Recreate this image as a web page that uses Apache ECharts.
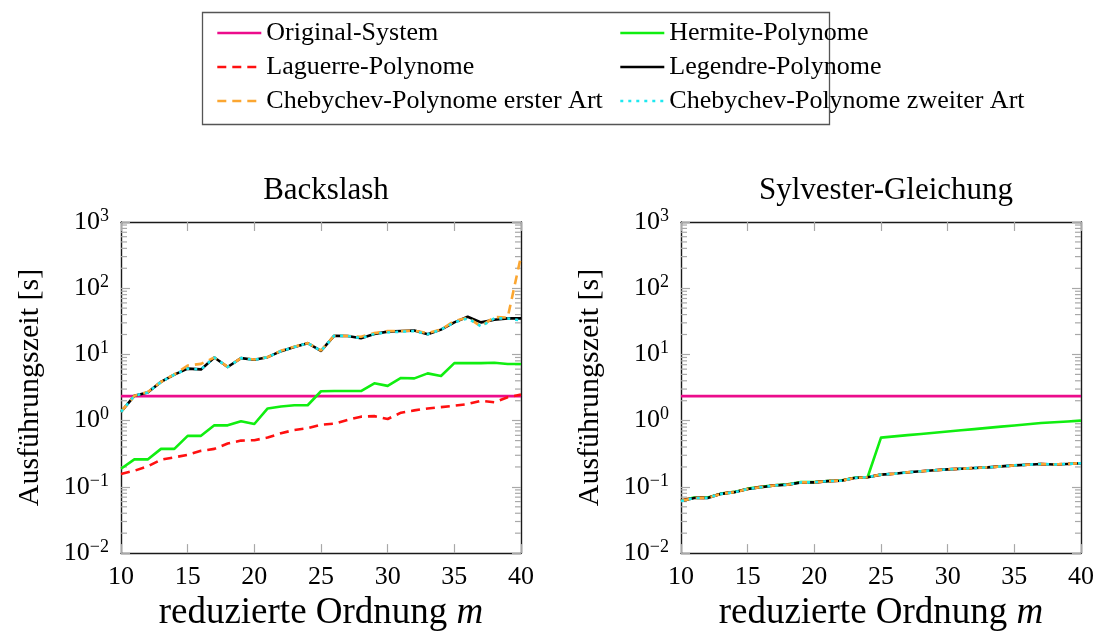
<!DOCTYPE html>
<html>
<head>
<meta charset="utf-8">
<script src="https://cdn.jsdelivr.net/npm/echarts@6/dist/echarts.min.js"></script>
<style>
  html, body { margin: 0; padding: 0; background: #fff; }
  #chart { width: 1097px; height: 637px; }
</style>
</head>
<body>
<div id="chart"></div>
<script>
// reduzierte Ordnung m
const orders = [10, 11, 12, 13, 14, 15, 16, 17, 18, 19, 20, 21, 22, 23, 24, 25,
                26, 27, 28, 29, 30, 31, 32, 33, 34, 35, 36, 37, 38, 39, 40];

// Ausführungszeit [s] – Backslash
const bsOriginal = [2.35, 2.35, 2.35, 2.35, 2.35, 2.35, 2.35, 2.35, 2.35, 2.35, 2.35, 2.35, 2.35, 2.35, 2.35, 2.35,
                    2.35, 2.35, 2.35, 2.35, 2.35, 2.35, 2.35, 2.35, 2.35, 2.35, 2.35, 2.35, 2.35, 2.35, 2.35];
const bsHermite = [0.188, 0.26, 0.26, 0.375, 0.375, 0.59, 0.59, 0.85, 0.85, 0.98, 0.89, 1.53, 1.64, 1.71, 1.71, 2.78,
                   2.8, 2.8, 2.8, 3.66, 3.35, 4.41, 4.35, 5.18, 4.73, 7.4, 7.4, 7.4, 7.5, 7.16, 7.16];
const bsLaguerre = [0.157, 0.175, 0.204, 0.257, 0.279, 0.305, 0.35, 0.375, 0.452, 0.5, 0.507, 0.556, 0.645, 0.723, 0.767, 0.87,
                    0.9, 1.03, 1.15, 1.17, 1.06, 1.32, 1.43, 1.53, 1.6, 1.68, 1.78, 2.0, 1.9, 2.26, 2.48];
const bsLegendre = [1.36, 2.37, 2.66, 3.85, 4.95, 6.1, 5.94, 9.0, 6.46, 8.8, 8.3, 9.1, 11.2, 12.9, 14.8, 11.3,
                    19.2, 19.0, 17.6, 20.4, 22.1, 22.6, 22.9, 20.2, 23.7, 30.5, 37, 30.5, 33.4, 35, 35];
const bsCheb1 = [1.36, 2.37, 2.7, 3.85, 5.0, 6.8, 7.2, 9.0, 6.5, 8.8, 8.4, 9.1, 11.4, 13.1, 14.8, 11.5,
                 19.2, 19.0, 18.5, 21.0, 22.5, 22.6, 22.9, 21.0, 23.7, 32, 36, 26.6, 36.7, 36, 305];
const bsCheb2 = [1.36, 2.37, 2.66, 3.85, 4.95, 6.1, 5.94, 9.0, 6.46, 8.8, 8.3, 9.1, 11.2, 12.9, 14.8, 11.3,
                 19.2, 19.0, 17.6, 20.4, 21.5, 22.0, 22.5, 20.2, 23.7, 30.5, 35, 26.6, 35, 35, 32.5];

// Ausführungszeit [s] – Sylvester-Gleichung
const syOriginal = [2.35, 2.35, 2.35, 2.35, 2.35, 2.35, 2.35, 2.35, 2.35, 2.35, 2.35, 2.35, 2.35, 2.35, 2.35, 2.35,
                    2.35, 2.35, 2.35, 2.35, 2.35, 2.35, 2.35, 2.35, 2.35, 2.35, 2.35, 2.35, 2.35, 2.35, 2.35];
const syHermite = [0.062, 0.069, 0.069, 0.079, 0.084, 0.094, 0.1, 0.106, 0.109, 0.118, 0.118, 0.123, 0.125, 0.137, 0.141, 0.555,
                   0.579, 0.604, 0.63, 0.658, 0.686, 0.715, 0.746, 0.778, 0.812, 0.847, 0.883, 0.922, 0.946, 0.973, 1.0];
const syLaguerre = [0.062, 0.069, 0.068, 0.079, 0.084, 0.093, 0.1, 0.106, 0.108, 0.117, 0.117, 0.122, 0.124, 0.136, 0.14, 0.153,
                    0.158, 0.166, 0.172, 0.178, 0.184, 0.188, 0.193, 0.197, 0.204, 0.211, 0.216, 0.222, 0.218, 0.222, 0.228];
const syLegendre = [0.061, 0.068, 0.068, 0.0785, 0.083, 0.093, 0.099, 0.105, 0.108, 0.117, 0.117, 0.122, 0.124, 0.136, 0.14, 0.153,
                    0.158, 0.166, 0.172, 0.178, 0.184, 0.188, 0.193, 0.197, 0.204, 0.211, 0.216, 0.222, 0.218, 0.222, 0.228];
const syCheb1 = [0.061, 0.068, 0.068, 0.0785, 0.083, 0.093, 0.099, 0.105, 0.108, 0.117, 0.117, 0.122, 0.124, 0.136, 0.14, 0.153,
                 0.158, 0.166, 0.172, 0.178, 0.184, 0.188, 0.193, 0.197, 0.204, 0.211, 0.216, 0.222, 0.218, 0.222, 0.228];
const syCheb2 = [0.061, 0.068, 0.068, 0.0785, 0.083, 0.093, 0.099, 0.105, 0.108, 0.117, 0.117, 0.122, 0.124, 0.136, 0.14, 0.153,
                 0.158, 0.166, 0.172, 0.178, 0.184, 0.188, 0.193, 0.197, 0.204, 0.211, 0.216, 0.222, 0.218, 0.222, 0.228];

// axis ranges and tick labels
const xTicks = [10, 15, 20, 25, 30, 35, 40];
const yDecades = [-2, -1, 0, 1, 2, 3];
const minorDigits = [2, 3, 4, 5, 6, 7, 8, 9];

const FONT = '"Liberation Serif", "DejaVu Serif", "Times New Roman", serif';
const C = {
  original: '#ec0c8c',
  hermite: '#10ee10',
  laguerre: '#ff1010',
  legendre: '#000000',
  cheb1: '#fba631',
  cheb2: '#1ee8f0'
};
const LW = 2.6;

const pts = vals => orders.map((m, i) => [m, vals[i]]);

// log minor tick values (2..9 · 10^k) inside each decade
const minorVals = [];
for (let k = 0; k < yDecades.length - 1; k++) {
  for (const d of minorDigits) minorVals.push([xTicks[0], d * Math.pow(10, yDecades[k])]);
}

function powLabel(v) {
  const e = Math.round(Math.log10(v));
  return '10{sup|' + (e < 0 ? '\u2212' + (-e) : String(e)) + '}';
}

function minorTickSeries(gi) {
  return {
    type: 'custom',
    xAxisIndex: gi, yAxisIndex: gi,
    silent: true, z: 1,
    data: minorVals,
    renderItem: function (params, api) {
      const cs = params.coordSys;
      const y = api.coord([api.value(0), api.value(1)])[1];
      const st = { stroke: '#a8a8a8', lineWidth: 1.2 };
      return {
        type: 'group',
        children: [
          { type: 'line', shape: { x1: cs.x, y1: y, x2: cs.x + 6, y2: y }, style: st },
          { type: 'line', shape: { x1: cs.x + cs.width - 6, y1: y, x2: cs.x + cs.width, y2: y }, style: st }
        ]
      };
    }
  };
}

function lineSeries(name, vals, gi, color, type, z) {
  return {
    name: name, type: 'line', xAxisIndex: gi, yAxisIndex: gi,
    data: pts(vals), symbol: 'none', showSymbol: false, z: z,
    lineStyle: { color: color, width: LW, type: type, cap: 'butt', join: 'round' },
    itemStyle: { color: color },
    emphasis: { disabled: true }
  };
}

function plotSeries(gi, d) {
  return [
    lineSeries('Original-System', d.original, gi, C.original, 'solid', 2),
    lineSeries('Hermite-Polynome', d.hermite, gi, C.hermite, 'solid', 3),
    lineSeries('Laguerre-Polynome', d.laguerre, gi, C.laguerre, [9, 6], 4),
    lineSeries('Legendre-Polynome', d.legendre, gi, C.legendre, 'solid', 5),
    lineSeries('Chebychev-Polynome erster Art', d.cheb1, gi, C.cheb1, [9, 6], 6),
    lineSeries('Chebychev-Polynome zweiter Art', d.cheb2, gi, C.cheb2, [3, 5], 7),
    minorTickSeries(gi)
  ];
}

const frameLine = { show: true, lineStyle: { color: '#1a1a1a', width: 1.4 } };
const majorTick = { show: true, inside: true, length: 9, lineStyle: { color: '#a8a8a8', width: 1.2 } };
const tickText = { color: '#000', fontFamily: FONT, fontSize: 26 };

function xAxes(gi) {
  return [
    {
      type: 'value', gridIndex: gi, position: 'bottom', min: xTicks[0], max: xTicks[xTicks.length - 1],
      interval: xTicks[1] - xTicks[0],
      axisLine: frameLine, axisTick: majorTick, splitLine: { show: false },
      axisLabel: Object.assign({ margin: 11 }, tickText),
      name: 'reduzierte Ordnung {it|m}', nameLocation: 'middle', nameGap: 29,
      nameTextStyle: {
        color: '#000', fontFamily: FONT, fontSize: 37,
        rich: { it: { fontFamily: FONT, fontSize: 37, fontStyle: 'italic', color: '#000' } }
      }
    },
    {
      type: 'value', gridIndex: gi, position: 'top', min: xTicks[0], max: xTicks[xTicks.length - 1],
      interval: xTicks[1] - xTicks[0],
      axisLine: frameLine, axisTick: majorTick, splitLine: { show: false }, axisLabel: { show: false }
    }
  ];
}

function yAxes(gi) {
  const base = {
    type: 'log', logBase: 10, gridIndex: gi,
    min: Math.pow(10, yDecades[0]), max: Math.pow(10, yDecades[yDecades.length - 1]),
    axisLine: frameLine, axisTick: majorTick, splitLine: { show: false }
  };
  return [
    Object.assign({}, base, {
      position: 'left',
      axisLabel: Object.assign({
        margin: 12, formatter: powLabel,
        rich: { sup: { fontFamily: FONT, fontSize: 18, color: '#000', padding: [0, 0, 12, 0] } }
      }, tickText),
      name: 'Ausführungszeit [s]', nameLocation: 'middle', nameGap: 76,
      nameTextStyle: { color: '#000', fontFamily: FONT, fontSize: 30 }
    }),
    Object.assign({}, base, { position: 'right', axisLabel: { show: false } })
  ];
}

const xa = xAxes(0).concat(xAxes(1));
const ya = yAxes(0).concat(yAxes(1));
// order: [left bottom, right bottom, left top, right top]
const xAxisList = [xa[0], xa[2], xa[1], xa[3]];
const yAxisList = [ya[0], ya[2], ya[1], ya[3]];

const legendText = { color: '#000', fontFamily: FONT, fontSize: 26 };
const legendBase = {
  orient: 'vertical', top: 15, itemWidth: 44, itemHeight: 14, itemGap: 8,
  selectedMode: false, textStyle: legendText,
  itemStyle: { opacity: 0 },
  lineStyle: { width: LW }
};

const option = {
  animation: false,
  backgroundColor: '#fff',
  title: [
    { text: 'Backslash', left: 321, top: 170, textAlign: 'center',
      textStyle: { color: '#000', fontFamily: FONT, fontSize: 31, fontWeight: 'normal' } },
    { text: 'Sylvester-Gleichung', left: 881, top: 170, textAlign: 'center',
      textStyle: { color: '#000', fontFamily: FONT, fontSize: 31, fontWeight: 'normal' } }
  ],
  legend: [
    Object.assign({}, legendBase, { left: 211,
      data: ['Original-System', 'Laguerre-Polynome', 'Chebychev-Polynome erster Art'] }),
    Object.assign({}, legendBase, { left: 614,
      data: ['Hermite-Polynome', 'Legendre-Polynome', 'Chebychev-Polynome zweiter Art'] })
  ],
  graphic: [
    { type: 'rect', left: 200, top: 10, z: 0,
      shape: { width: 627, height: 112 },
      style: { fill: 'none', stroke: '#555', lineWidth: 1.3 } }
  ],
  grid: [
    { left: 121, top: 222, width: 400, height: 334 },
    { left: 681, top: 222, width: 400, height: 334 }
  ],
  xAxis: xAxisList,
  yAxis: yAxisList,
  series: plotSeries(0, {
    original: bsOriginal, hermite: bsHermite, laguerre: bsLaguerre,
    legendre: bsLegendre, cheb1: bsCheb1, cheb2: bsCheb2
  }).concat(plotSeries(1, {
    original: syOriginal, hermite: syHermite, laguerre: syLaguerre,
    legendre: syLegendre, cheb1: syCheb1, cheb2: syCheb2
  }))
};

const chart = echarts.init(document.getElementById('chart'), null, { renderer: 'canvas' });
chart.setOption(option);
</script>
</body>
</html>
